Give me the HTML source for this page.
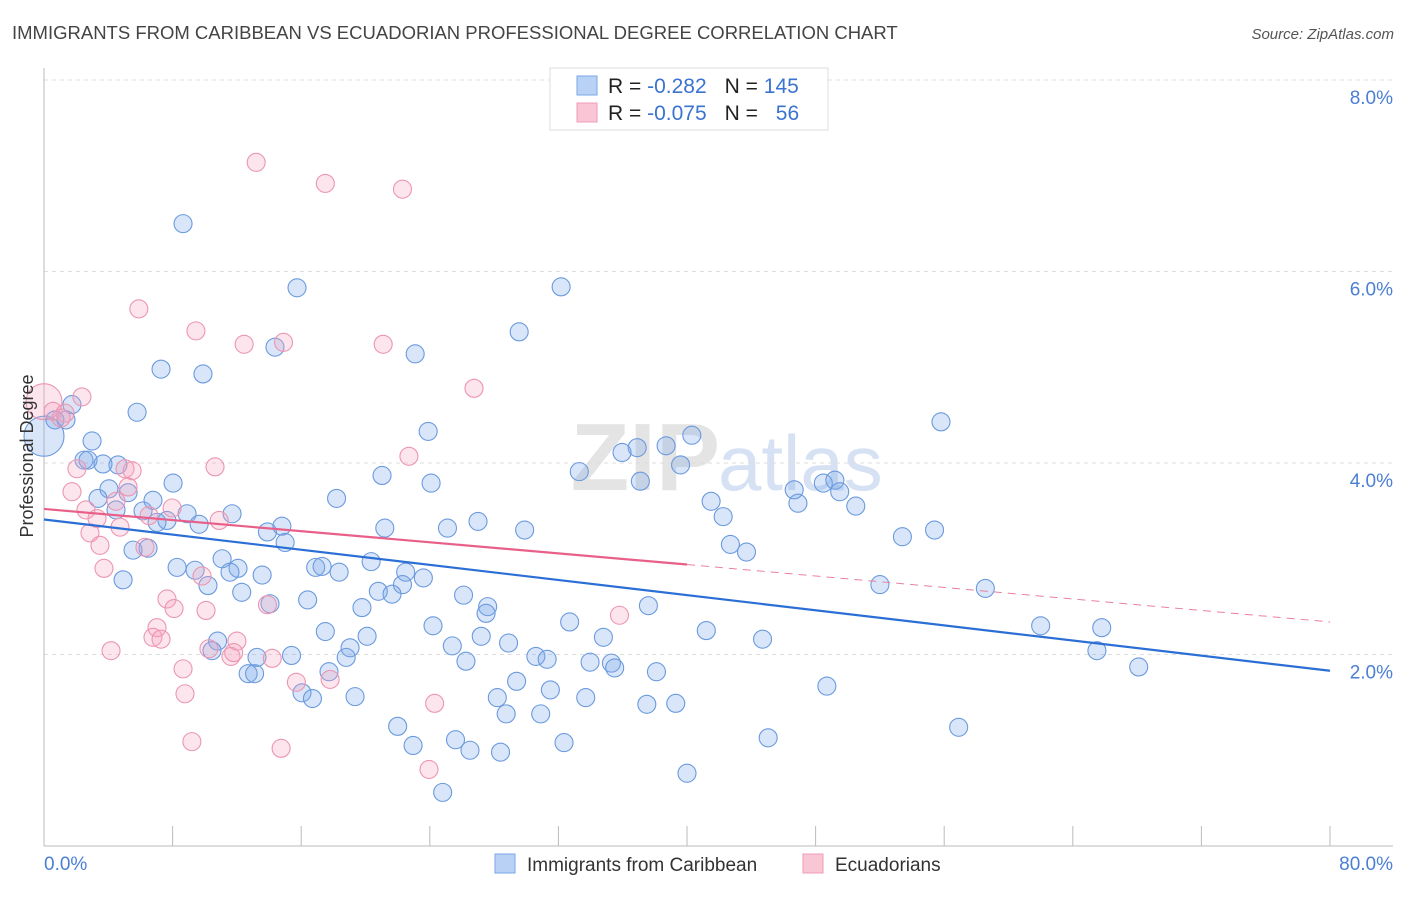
<!DOCTYPE html>
<html><head><meta charset="utf-8"><style>
body{margin:0;background:#fff;font-family:"Liberation Sans",sans-serif}
svg text{font-family:"Liberation Sans",sans-serif}
</style></head><body>
<svg id="chart" width="1406" height="892" xmlns="http://www.w3.org/2000/svg">
<text x="12" y="39" font-size="18.5" fill="#444">IMMIGRANTS FROM CARIBBEAN VS ECUADORIAN PROFESSIONAL DEGREE CORRELATION CHART</text>
<text x="1394" y="39" font-size="15" fill="#555" font-style="italic" text-anchor="end">Source: ZipAtlas.com</text>
<text x="720" y="490" font-size="96" fill="#e4e4e4" text-anchor="end" font-family="Liberation Serif" font-weight="bold">ZIP</text>
<text x="718" y="490" font-size="78" fill="#d6e2f3">atlas</text>
<g id="grid"></g><g id="axes"></g><g id="pts"></g><g id="lines"></g>
<text transform="translate(33,456) rotate(-90)" font-size="18" fill="#333" text-anchor="middle">Professional Degree</text>
<g>
<rect x="550" y="68" width="278" height="62" fill="#fff" stroke="#ddd"/>
<rect x="577" y="76" width="20" height="19" fill="#b9d1f5" stroke="#7aa6e6"/>
<rect x="577" y="103" width="20" height="19" fill="#f9c6d5" stroke="#ef9cb6"/>
<text x="608" y="93" font-size="21" fill="#222">R = <tspan fill="#3b73d1">-0.282</tspan><tspan dx="18">N = </tspan><tspan fill="#3b73d1">145</tspan></text>
<text x="608" y="120" font-size="21" fill="#222">R = <tspan fill="#3b73d1">-0.075</tspan><tspan dx="18">N = </tspan><tspan fill="#3b73d1" dx="12">56</tspan></text>
</g>
<g>
<rect x="495" y="854" width="20" height="19" fill="#b9d1f5" stroke="#7aa6e6"/>
<text x="527" y="871" font-size="19" fill="#333">Immigrants from Caribbean</text>
<rect x="803" y="854" width="20" height="19" fill="#f9c6d5" stroke="#ef9cb6"/>
<text x="835" y="871" font-size="19" fill="#333">Ecuadorians</text>
</g>
</svg>
<script>
const yTicks=[2,4,6,8];
const yTickLabels=["2.0%","4.0%","6.0%","8.0%"];
const xTickLabels=["0.0%","80.0%"];
const blueX=[8.65,15.74,32.17,29.56,14.37,23.09,7.28,9.89,5.79,1.74,1.37,0.68,2.99,23.9,55.8,40.3,36.9,38.7,35.96,2.49,2.74,4.6,3.67,39.6,33.3,21.03,37.1,8.03,24.08,4.04,5.23,46.67,48.48,49.2,49.5,46.9,50.5,41.5,18.2,3.36,6.78,6.16,4.48,8.9,7.65,7.03,11.7,9.65,42.25,27.0,25.1,21.2,29.9,14.8,13.9,55.4,53.4,15.0,42.7,43.7,6.47,5.54,11.08,20.35,8.28,9.4,12.07,16.9,17.3,18.36,11.57,13.57,22.5,23.6,4.92,22.3,52.0,58.56,10.2,20.8,21.65,12.3,26.1,16.4,14.06,19.78,27.6,27.5,37.6,32.7,24.2,62.0,65.8,41.2,17.5,27.2,20.1,34.8,44.7,10.8,28.9,25.4,19.04,10.45,15.4,18.8,30.6,31.3,13.25,65.5,26.25,33.97,35.3,35.5,68.1,38.1,17.73,12.7,13.1,29.4,48.7,31.5,16.05,16.7,19.35,28.2,33.7,37.5,39.3,28.75,30.9,22.0,56.9,45.05,25.6,22.96,32.35,26.5,28.4,40.0,24.8];
const blueY=[6.50,5.83,5.84,5.37,5.21,5.14,4.98,4.93,4.53,4.61,4.45,4.45,4.23,4.33,4.43,4.29,4.16,4.18,4.11,4.03,4.03,3.98,3.99,3.98,3.91,3.87,3.81,3.79,3.79,3.73,3.69,3.72,3.79,3.82,3.70,3.58,3.55,3.60,3.63,3.63,3.61,3.50,3.51,3.47,3.40,3.38,3.47,3.36,3.44,3.39,3.32,3.32,3.30,3.34,3.28,3.30,3.23,3.17,3.15,3.07,3.11,3.09,3.0,2.97,2.91,2.88,2.90,2.91,2.92,2.86,2.86,2.83,2.86,2.80,2.78,2.73,2.73,2.69,2.72,2.66,2.63,2.65,2.62,2.57,2.53,2.49,2.50,2.43,2.51,2.34,2.30,2.30,2.28,2.25,2.24,2.19,2.19,2.18,2.16,2.14,2.12,2.09,2.07,2.04,1.99,1.97,1.98,1.95,1.97,2.04,1.93,1.92,1.91,1.86,1.87,1.82,1.82,1.80,1.80,1.72,1.67,1.63,1.60,1.54,1.56,1.55,1.55,1.48,1.49,1.38,1.38,1.25,1.24,1.13,1.11,1.05,1.08,1.00,0.98,0.76,0.56];
const pinkX=[13.2,17.5,22.3,5.9,9.45,14.9,12.45,21.1,26.75,2.36,0.56,1.31,1.06,22.7,10.64,2.05,5.04,5.48,5.23,1.74,4.48,2.61,7.97,6.53,3.3,10.9,4.73,2.86,3.48,6.28,3.73,9.83,7.65,8.09,10.08,13.9,35.8,7.03,6.78,7.28,12.0,10.26,4.17,11.63,11.8,14.2,8.65,15.7,17.8,8.77,24.3,9.2,14.75,23.95];
const pinkY=[7.14,6.92,6.86,5.61,5.38,5.26,5.24,5.24,4.78,4.69,4.54,4.52,4.47,4.07,3.96,3.94,3.94,3.92,3.75,3.70,3.60,3.51,3.53,3.45,3.42,3.40,3.33,3.27,3.14,3.12,2.90,2.82,2.58,2.48,2.46,2.52,2.41,2.28,2.18,2.16,2.14,2.06,2.04,1.98,2.02,1.96,1.85,1.71,1.74,1.59,1.49,1.09,1.02,0.80];
const bigBlue=[[0,4.28]];const bigPink=[[0,4.64]];
const blueTrend=[3.41,1.83];const pinkTrend=[3.52,2.94,2.34];
const X=v=>44+v*16.075, Y=v=>846-v*95.75;
const NS="http://www.w3.org/2000/svg";
function mk(p,t,a){const e=document.createElementNS(NS,t);for(const k in a)e.setAttribute(k,a[k]);document.getElementById(p).appendChild(e);return e;}
yTicks.forEach((t,i)=>{
 const l=mk('grid','line',{x1:44,x2:1393,y1:Y(t),y2:Y(t),stroke:'#ddd','stroke-dasharray':'4,4'});
 
 
 const tx=mk('grid','text',{x:1393,y:Y(t)+24,'font-size':19,fill:'#4a7fd4','text-anchor':'end'});tx.textContent=yTickLabels[i];
 
 
});
mk('axes','line',{x1:44,x2:44,y1:68,y2:846,stroke:'#bbb'});
mk('axes','line',{x1:44,x2:1393,y1:846,y2:846,stroke:'#bbb'});
for(let i=0;i<=10;i++){const t=mk('axes','line',{x1:X(i*8),x2:X(i*8),y1:826,y2:846,stroke:'#bbb'});}
const xl0=mk('axes','text',{x:44,y:870,'font-size':19,fill:'#4a7fd4'});xl0.textContent=xTickLabels[0];


const xl1=mk('axes','text',{x:1393,y:870,'font-size':19,fill:'#4a7fd4','text-anchor':'end'});xl1.textContent=xTickLabels[1];


function dot(x,y,r,f,s,n){const c=mk('pts','circle',{cx:X(x),cy:Y(y),r:r,fill:f,stroke:s,'stroke-width':1.1});
 
 }
bigBlue.forEach(p=>dot(p[0],p[1],20,'rgba(120,165,235,0.28)','#6b9ade','point-caribbean'));
bigPink.forEach(p=>dot(p[0],p[1],18,'rgba(245,160,190,0.28)','#ec96b1','point-ecuadorian'));
blueX.forEach((x,i)=>dot(x,blueY[i],9,'rgba(120,165,235,0.28)','#6b9ade','point-caribbean'));
pinkX.forEach((x,i)=>dot(x,pinkY[i],9,'rgba(245,160,190,0.28)','#ec96b1','point-ecuadorian'));
const b=mk('lines','line',{x1:X(0),y1:Y(blueTrend[0]),x2:X(80),y2:Y(blueTrend[1]),stroke:'#2b6fd6','stroke-width':2.2});


const p1=mk('lines','line',{x1:X(0),y1:Y(pinkTrend[0]),x2:X(40),y2:Y(pinkTrend[1]),stroke:'#e8608a','stroke-width':2.2});


const p2=mk('lines','line',{x1:X(40),y1:Y(pinkTrend[1]),x2:X(80),y2:Y(pinkTrend[2]),stroke:'#e8809f','stroke-width':1,'stroke-dasharray':'8,6'});


</script>
</body></html>
